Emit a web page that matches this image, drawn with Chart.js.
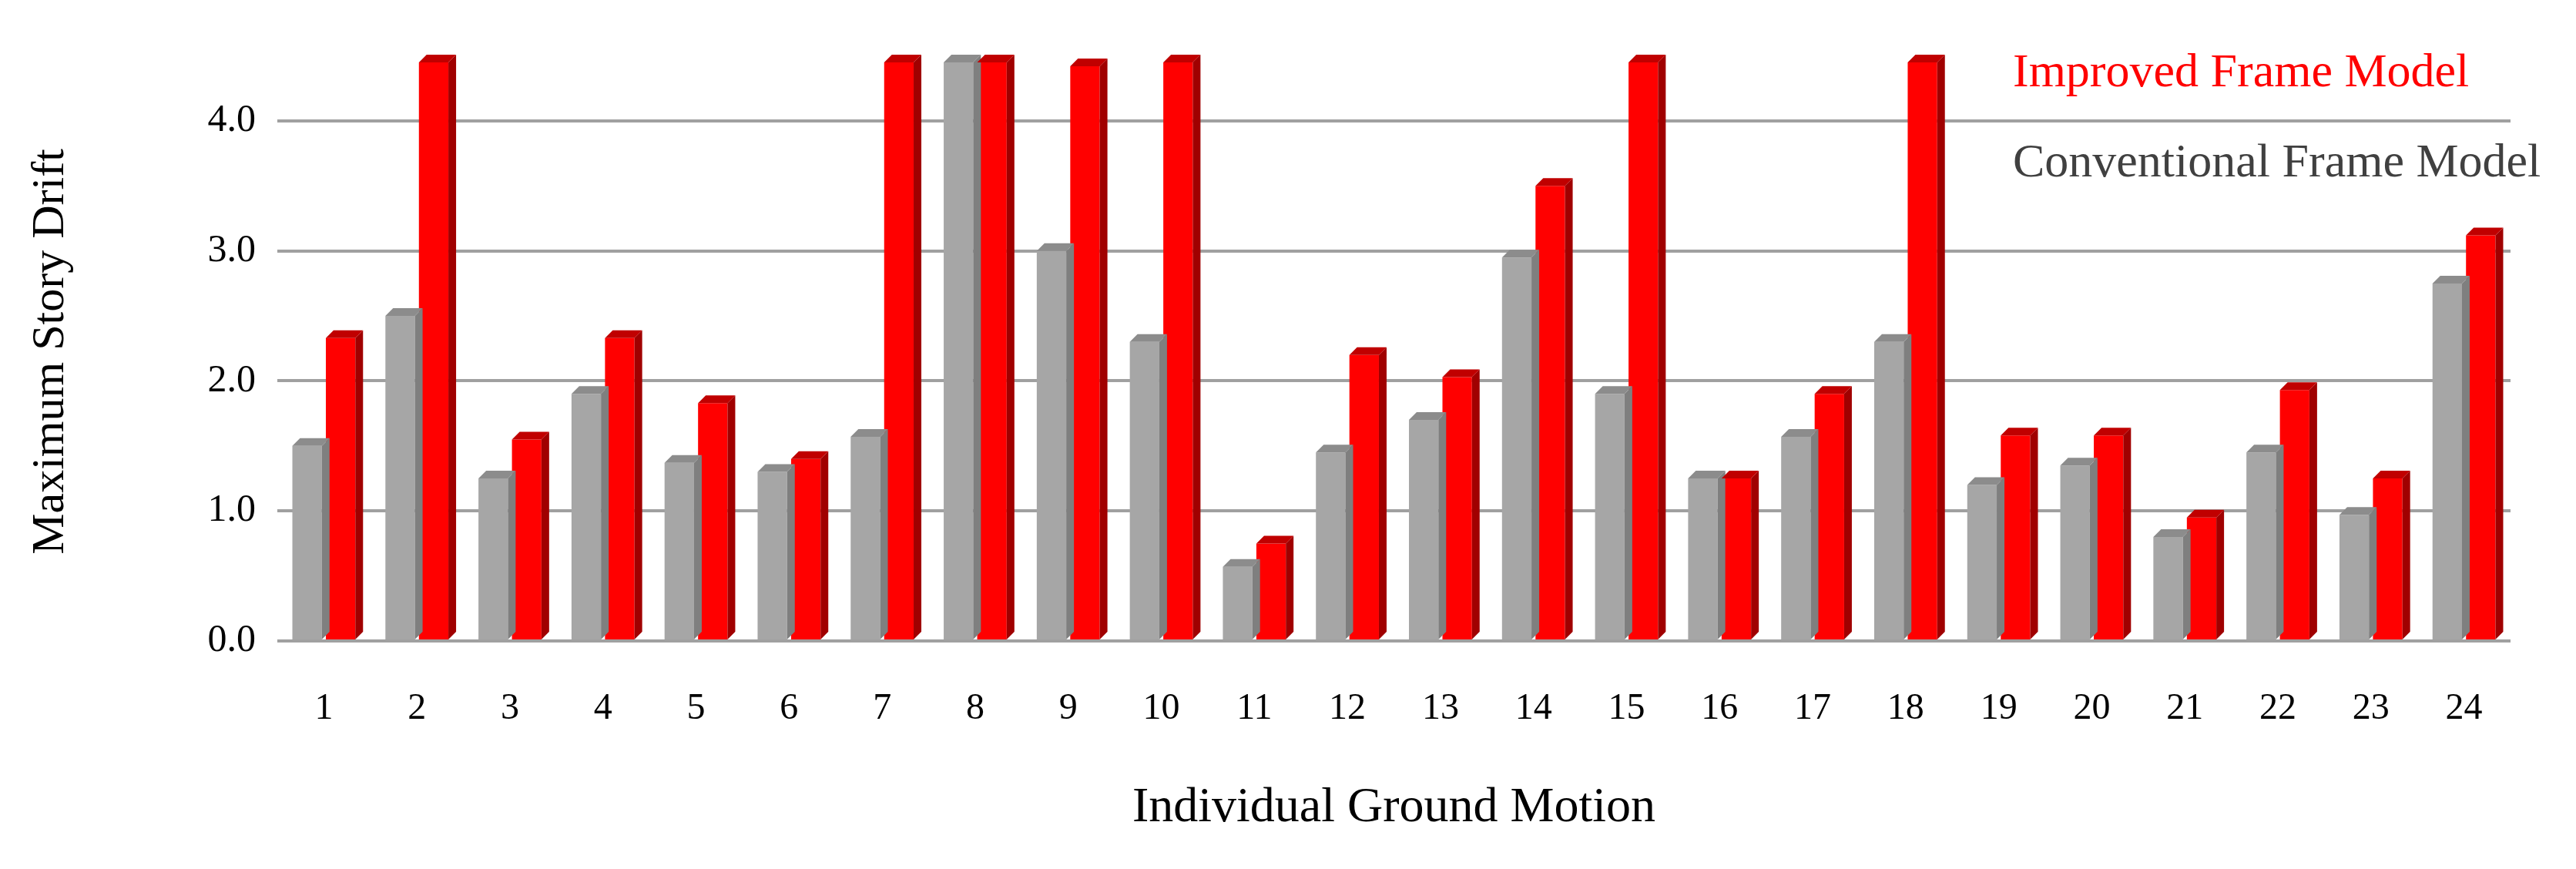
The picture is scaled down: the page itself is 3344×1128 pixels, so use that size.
<!DOCTYPE html>
<html><head><meta charset="utf-8">
<script src="https://cdn.jsdelivr.net/npm/chart.js@4"></script>
<style>html,body{margin:0;padding:0;background:#fff}#w{width:3344px;height:1128px}</style>
</head><body><div id="w"><canvas id="c"></canvas></div>
<script>
const categories = ["1","2","3","4","5","6","7","8","9","10","11","12","13","14","15","16","17","18","19","20","21","22","23","24"];
const conventional = [1.5,2.5,1.25,1.9,1.37,1.3,1.57,4.45,3.0,2.3,0.57,1.45,1.7,2.95,1.9,1.25,1.57,2.3,1.2,1.35,0.8,1.45,0.97,2.75];
const improved = [2.33,4.45,1.55,2.33,1.83,1.4,4.45,4.45,4.42,4.45,0.75,2.2,2.03,3.5,4.45,1.25,1.9,4.45,1.58,1.58,0.95,1.93,1.25,3.12];
const yTicks = [0,1,2,3,4];
const seriesNames = ["Conventional Frame Model","Improved Frame Model"];

const shade = {
  id:'shade',
  afterDatasetsDraw(chart){
    const ctx = chart.ctx;
    const sides = ['#7f7f7f','#a00000'];
    const tops = ['#8c8c8c','#c00000'];
    chart.data.datasets.forEach((ds,i)=>{
      chart.getDatasetMeta(i).data.forEach(b=>{
        const x1 = b.x + b.width/2, y = b.y, yb = b.base, d = 10;
        ctx.fillStyle = sides[i];
        ctx.beginPath(); ctx.moveTo(x1,y); ctx.lineTo(x1+d,y-d); ctx.lineTo(x1+d,yb-d); ctx.lineTo(x1,yb); ctx.closePath(); ctx.fill();
        ctx.fillStyle = tops[i];
        const x0 = b.x - b.width/2;
        ctx.beginPath(); ctx.moveTo(x0,y); ctx.lineTo(x0+d,y-d); ctx.lineTo(x1+d,y-d); ctx.lineTo(x1,y); ctx.closePath(); ctx.fill();
      });
    });
  }
};
const legendText = {
  id:'legendText',
  afterDraw(chart){
    const ctx = chart.ctx;
    ctx.save();
    ctx.font = '62px "Liberation Serif"';
    ctx.textBaseline = 'middle'; ctx.textAlign='left';
    ctx.fillStyle = '#ff0000'; ctx.fillText(seriesNames[1], 2613, 96);
    ctx.fillStyle = '#404040'; ctx.fillText(seriesNames[0], 2613, 213);
    ctx.restore();
  }
};

new Chart(document.getElementById('c'), {
  type:'bar',
  data:{labels:categories, datasets:[
    {label:seriesNames[0], data:conventional, backgroundColor:'#a6a6a6'},
    {label:seriesNames[1], data:improved, backgroundColor:'#ff0000'}
  ]},
  options:{
    responsive:true, maintainAspectRatio:false, animation:false,
    devicePixelRatio:1,
    layout:{padding:{top:81,right:85,left:0,bottom:0}},
    datasets:{bar:{categoryPercentage:0.72,barPercentage:0.88}},
    plugins:{legend:{display:false},tooltip:{enabled:false}},
    scales:{
      x:{
        grid:{display:false}, border:{display:false},
        ticks:{color:'#000',font:{family:'Liberation Serif',size:48},padding:52,maxRotation:0},
        title:{display:true,text:'Individual Ground Motion',color:'#000',font:{family:'Liberation Serif',size:64},padding:{top:10,bottom:40}},
        afterFit(s){s.height=296;}
      },
      y:{
        min:0,max:4.45,
        afterBuildTicks(s){s.ticks=yTicks.map(v=>({value:v}));},
        grid:{color:'#a0a0a0',lineWidth:4,drawTicks:false}, border:{display:false},
        ticks:{color:'#000',font:{family:'Liberation Serif',size:50},padding:28,callback:v=>v.toFixed(1)},
        title:{display:true,text:'Maximum Story Drift',color:'#000',font:{family:'Liberation Serif',size:60},padding:{top:30,bottom:0}},
        afterFit(s){s.width=360;}
      }
    }
  },
  plugins:[shade,legendText]
});
</script></body></html>
